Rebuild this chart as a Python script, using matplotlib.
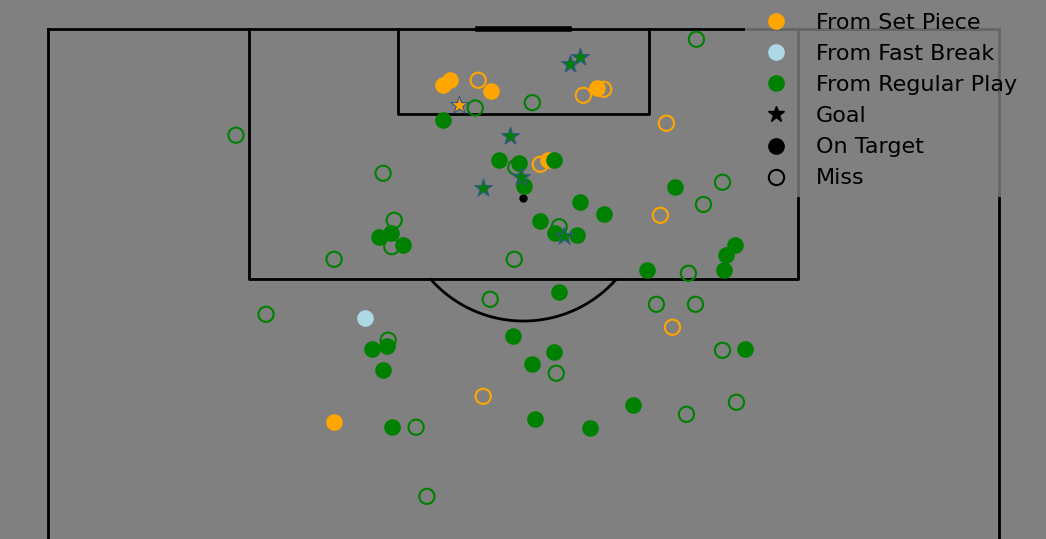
import numpy as np
import matplotlib
matplotlib.use("Agg")
import matplotlib.pyplot as plt
from matplotlib.lines import Line2D

# Shot locations in Opta coordinates (x: towards goal, y: across pitch)
# From set piece
sp_goal_x = [94.83]
sp_goal_y = [43.24]
sp_on_x = [96.17, 96.51, 95.76, 95.99, 91.07, 73.26]
sp_on_y = [41.49, 42.26, 46.61, 57.77, 52.61, 30.08]
sp_miss_x = [96.51, 95.49, 95.90, 93.59, 90.80, 87.33, 79.72, 75.02]
sp_miss_y = [45.24, 56.30, 58.44, 65.03, 51.77, 64.40, 65.67, 45.77]

# From fast break
fb_on_x = [80.33]
fb_on_y = [33.34]

# From regular play
rp_goal_x = [97.62, 98.10, 92.72, 89.19, 89.96, 85.89]
rp_goal_y = [54.90, 55.98, 48.60, 45.76, 49.76, 54.30]
rp_on_x = [93.83, 91.08, 90.90, 91.07, 89.29, 88.24, 87.41, 89.28, 86.92,
           86.11, 85.97, 85.84, 86.11, 85.29, 85.29, 84.61, 83.59, 83.59,
           82.10, 78.22, 78.42, 76.79, 79.10, 78.02, 77.20, 78.22, 72.92,
           73.48, 72.85, 74.41]
rp_on_y = [41.56, 47.45, 49.56, 53.24, 50.08, 55.98, 58.50, 65.98, 51.77,
           53.35, 55.66, 34.82, 36.02, 37.34, 72.30, 71.25, 71.14, 63.03,
           53.77, 34.02, 35.60, 35.24, 48.93, 53.24, 50.93, 73.25, 36.19,
           51.24, 57.03, 61.56]
rp_miss_x = [92.78, 94.63, 94.99, 99.30, 90.19, 90.60, 89.58, 88.07, 86.99,
             85.20, 86.55, 84.34, 84.34, 83.39, 81.62, 81.28, 81.28, 80.60,
             78.84, 76.59, 78.15, 72.92, 73.80, 74.62, 68.22]
rp_miss_y = [19.76, 44.93, 50.93, 68.19, 35.24, 49.19, 70.93, 68.93, 36.40,
             36.15, 53.76, 30.08, 49.03, 67.35, 46.50, 63.98, 68.09, 22.92,
             35.77, 53.45, 70.93, 38.71, 67.14, 72.40, 39.84]

SET_PIECE = 'orange'
FAST_BREAK = 'lightblue'
REGULAR = 'green'
STAR_EDGE = '#34558a'

fig = plt.figure(figsize=(10.46, 5.39), dpi=100, facecolor='grey')
ax = fig.add_axes([0, 0, 1, 1])
ax.set_facecolor('grey')
ax.set_xlim(-5.06, 104.96)
ax.set_ylim(65.32, 101.97)
ax.axis('off')

# Pitch (Opta dimensions)
lw = 2
ax.plot([0, 100], [100, 100], color='black', lw=lw, zorder=1)
ax.plot([0, 0], [100, 50], color='black', lw=lw, zorder=1)
ax.plot([100, 100], [100, 50], color='black', lw=lw, zorder=1)
ax.plot([21.1, 21.1, 78.9, 78.9], [100, 83, 83, 100], color='black', lw=lw, zorder=1)
ax.plot([36.8, 36.8, 63.2, 63.2], [100, 94.2, 94.2, 100], color='black', lw=lw, zorder=1)
ax.plot([45.2, 54.8], [100.01, 100.01], color='black', lw=4, solid_capstyle='projecting', zorder=1)
ax.scatter([50], [88.5], color='black', s=25, zorder=1)

# Penalty arc ("D")
t = np.linspace(np.pi, 2 * np.pi, 300)
arc_y = 50 + 12.99 * np.cos(t)
arc_x = 88.5 + 8.36 * np.sin(t)
keep = arc_x <= 83
ax.plot(arc_y[keep], arc_x[keep], color='black', lw=lw, zorder=1)

size = 120
# Misses (open circles)
ax.scatter(sp_miss_y, sp_miss_x, s=size, facecolors='none', edgecolors=SET_PIECE, linewidths=1.5, zorder=2)
ax.scatter(rp_miss_y, rp_miss_x, s=size, facecolors='none', edgecolors=REGULAR, linewidths=1.5, zorder=2)
# On target (filled circles)
ax.scatter(sp_on_y, sp_on_x, s=size, color=SET_PIECE, zorder=3)
ax.scatter(fb_on_y, fb_on_x, s=size, color=FAST_BREAK, zorder=3)
ax.scatter(rp_on_y, rp_on_x, s=size, color=REGULAR, zorder=3)
# Goals (stars)
ax.scatter(sp_goal_y, sp_goal_x, s=size + 60, marker='*', color=SET_PIECE,
           edgecolors=STAR_EDGE, linewidths=0.8, zorder=4)
ax.scatter(rp_goal_y, rp_goal_x, s=size + 60, marker='*', color=REGULAR,
           edgecolors=STAR_EDGE, linewidths=0.8, zorder=4)

handles = [
    Line2D([], [], ls='none', marker='o', ms=11, color=SET_PIECE, label='From Set Piece'),
    Line2D([], [], ls='none', marker='o', ms=11, color=FAST_BREAK, label='From Fast Break'),
    Line2D([], [], ls='none', marker='o', ms=11, color=REGULAR, label='From Regular Play'),
    Line2D([], [], ls='none', marker='*', ms=12, color='black', label='Goal'),
    Line2D([], [], ls='none', marker='o', ms=11, color='black', label='On Target'),
    Line2D([], [], ls='none', marker='o', ms=11, markerfacecolor='none',
           markeredgecolor='black', markeredgewidth=1.5, label='Miss'),
]
leg = fig.legend(handles=handles, loc='upper left', bbox_to_anchor=(745 / 1046, 1 - 4 / 539),
                 borderaxespad=0, fontsize=16, labelspacing=0.5, facecolor='grey',
                 edgecolor='none', framealpha=0.8, fancybox=False)
leg.set_zorder(10)

fig.savefig('out.png', dpi=100, facecolor='grey')
